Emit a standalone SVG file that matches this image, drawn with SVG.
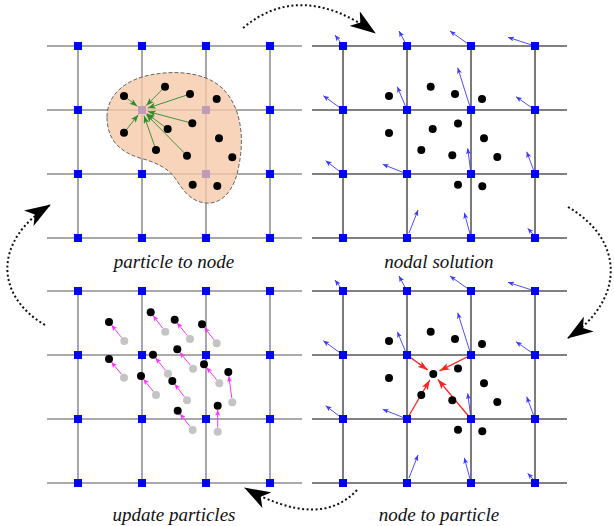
<svg xmlns="http://www.w3.org/2000/svg" width="614" height="526" viewBox="0 0 614 526">
<style>
.hl{stroke:#555;stroke-width:1.2}
.vl{stroke:#a8a8a8;stroke-width:2}
.hr{stroke:#808080;stroke-width:1.8}
.vr{stroke:#222;stroke-width:1.2}
.sq{fill:#0000ff}
.dot{fill:#000}
.old{fill:#c4c4c4}
.ga{stroke:#2e8b2e;stroke-width:0.9;fill:none;marker-end:url(#mg)}
.ba{stroke:#3a3aff;stroke-width:0.9;fill:none;marker-end:url(#mb)}
.ra{stroke:#ff2020;stroke-width:1.3;fill:none;marker-end:url(#mr)}
.ma{stroke:#ff33ff;stroke-width:1;fill:none;marker-end:url(#mm)}
.cyc{stroke:#111;stroke-width:2;stroke-dasharray:2 2.5;fill:none;marker-end:url(#big)}
.lbl{font-family:"Liberation Serif","Times New Roman",serif;font-style:italic;font-size:19px;fill:#111;text-anchor:middle}
</style>
<defs>
<marker id="big" markerUnits="userSpaceOnUse" viewBox="0 0 26 18" refX="25" refY="9" markerWidth="26" markerHeight="18" orient="auto"><path d="M0,0 L26,9 L0,18 L7,9 Z" fill="#000"/></marker>
<marker id="mg" markerUnits="userSpaceOnUse" viewBox="0 0 8 6" refX="8" refY="3" markerWidth="8" markerHeight="6" orient="auto"><path d="M0,0 L8,3 L0,6 L2,3 Z" fill="#2e8b2e"/></marker>
<marker id="mb" markerUnits="userSpaceOnUse" viewBox="0 0 6 5" refX="6" refY="2.5" markerWidth="6" markerHeight="5" orient="auto"><path d="M0,0 L6,2.5 L0,5 L1.5,2.5 Z" fill="#3a3aff"/></marker>
<marker id="mr" markerUnits="userSpaceOnUse" viewBox="0 0 10 7" refX="10" refY="3.5" markerWidth="10" markerHeight="7" orient="auto"><path d="M0,0 L10,3.5 L0,7 L2.5,3.5 Z" fill="#ff2020"/></marker>
<marker id="mm" markerUnits="userSpaceOnUse" viewBox="0 0 6 5" refX="6" refY="2.5" markerWidth="6" markerHeight="5" orient="auto"><path d="M0,0 L6,2.5 L0,5 L1.5,2.5 Z" fill="#ff33ff"/></marker>
</defs>
<rect width="614" height="526" fill="#fff"/>

<!-- Panel 1: particle to node -->
<g id="panel-particle-to-node">
<g class="grid">
<line class="vl" x1="78" y1="46" x2="78" y2="238"/><line class="vl" x1="142" y1="46" x2="142" y2="238"/><line class="vl" x1="206" y1="46" x2="206" y2="238"/><line class="vl" x1="270" y1="46" x2="270" y2="238"/>
<line class="hl" x1="47" y1="46" x2="302" y2="46"/><line class="hl" x1="47" y1="110" x2="302" y2="110"/><line class="hl" x1="47" y1="174" x2="302" y2="174"/><line class="hl" x1="47" y1="238" x2="302" y2="238"/>
</g>
<g class="nodes">
<rect class="sq" x="74" y="42" width="8" height="8"/><rect class="sq" x="138" y="42" width="8" height="8"/><rect class="sq" x="202" y="42" width="8" height="8"/><rect class="sq" x="266" y="42" width="8" height="8"/>
<rect class="sq" x="74" y="106" width="8" height="8"/><rect class="sq" x="138" y="106" width="8" height="8"/><rect class="sq" x="202" y="106" width="8" height="8"/><rect class="sq" x="266" y="106" width="8" height="8"/>
<rect class="sq" x="74" y="170" width="8" height="8"/><rect class="sq" x="138" y="170" width="8" height="8"/><rect class="sq" x="202" y="170" width="8" height="8"/><rect class="sq" x="266" y="170" width="8" height="8"/>
<rect class="sq" x="74" y="234" width="8" height="8"/><rect class="sq" x="138" y="234" width="8" height="8"/><rect class="sq" x="202" y="234" width="8" height="8"/><rect class="sq" x="266" y="234" width="8" height="8"/>
</g>
<path id="support" d="M107,117 C107,95 125,80 150,75 C175,70 205,72 222,88 C240,105 245,135 239,165 C235,190 222,205 205,203 C190,201 183,190 175,178 C168,168 155,162 140,158 C120,152 107,140 107,117 Z" fill="#f6c8a6" fill-opacity="0.78" stroke="#666" stroke-width="1" stroke-dasharray="4 2"/>
<g class="arrows">
<line class="ga" x1="124" y1="96" x2="137.3" y2="106.3"/>
<line class="ga" x1="165" y1="86.7" x2="146.2" y2="105.7"/>
<line class="ga" x1="190" y1="94" x2="147.7" y2="108.1"/>
<line class="ga" x1="192.3" y1="123.3" x2="147.8" y2="111.5"/>
<line class="ga" x1="167.7" y1="129" x2="146.8" y2="113.6"/>
<line class="ga" x1="124" y1="132.7" x2="138.3" y2="114.7"/>
<line class="ga" x1="156" y1="150" x2="144" y2="115.7"/>
<line class="ga" x1="187" y1="155.7" x2="146.2" y2="114.3"/>
</g>
<g class="particles">
<circle class="dot" cx="165" cy="86.7" r="4"/><circle class="dot" cx="190" cy="94" r="4"/><circle class="dot" cx="124" cy="96" r="4"/><circle class="dot" cx="216.7" cy="99" r="4"/>
<circle class="dot" cx="192.3" cy="123.3" r="4"/><circle class="dot" cx="167.7" cy="129" r="4"/><circle class="dot" cx="124" cy="132.7" r="4"/><circle class="dot" cx="219" cy="138.3" r="4"/>
<circle class="dot" cx="156" cy="150" r="4"/><circle class="dot" cx="187" cy="155.7" r="4"/><circle class="dot" cx="232.3" cy="157.3" r="4"/><circle class="dot" cx="192.7" cy="184.7" r="4"/><circle class="dot" cx="217.3" cy="186" r="4"/>
</g>
<text class="lbl" x="174" y="268">particle to node</text>
</g>

<!-- Panel 2: nodal solution -->
<g id="panel-nodal-solution">
<g class="grid">
<line class="hr" x1="312" y1="46" x2="567" y2="46"/><line class="hr" x1="312" y1="110" x2="567" y2="110"/><line class="hr" x1="312" y1="174" x2="567" y2="174"/><line class="hr" x1="312" y1="238" x2="567" y2="238"/>
<line class="vr" x1="343" y1="46" x2="343" y2="238"/><line class="vr" x1="407" y1="46" x2="407" y2="238"/><line class="vr" x1="471" y1="46" x2="471" y2="238"/><line class="vr" x1="535" y1="46" x2="535" y2="238"/>
</g>
<g class="arrows">
<line class="ba" x1="343" y1="46" x2="335" y2="35"/><line class="ba" x1="407" y1="46" x2="399" y2="31"/><line class="ba" x1="471" y1="46" x2="450" y2="31"/><line class="ba" x1="535" y1="46" x2="508" y2="37.3"/>
<line class="ba" x1="343" y1="110" x2="323.3" y2="95.7"/><line class="ba" x1="407" y1="110" x2="397.3" y2="86.7"/><line class="ba" x1="471" y1="110" x2="457.7" y2="67.7"/><line class="ba" x1="535" y1="110" x2="516" y2="96.7"/>
<line class="ba" x1="343" y1="174" x2="325.7" y2="160.7"/><line class="ba" x1="407" y1="174" x2="382.7" y2="164.3"/><line class="ba" x1="471" y1="174" x2="467.7" y2="148.3"/><line class="ba" x1="535" y1="174" x2="526.7" y2="151.7"/>
<line class="ba" x1="409" y1="233" x2="418" y2="210"/><line class="ba" x1="470" y1="234" x2="464.3" y2="212.7"/><line class="ba" x1="533" y1="234" x2="527.7" y2="228.3"/>
</g>
<g class="nodes">
<rect class="sq" x="339" y="42" width="8" height="8"/><rect class="sq" x="403" y="42" width="8" height="8"/><rect class="sq" x="467" y="42" width="8" height="8"/><rect class="sq" x="531" y="42" width="8" height="8"/>
<rect class="sq" x="339" y="106" width="8" height="8"/><rect class="sq" x="403" y="106" width="8" height="8"/><rect class="sq" x="467" y="106" width="8" height="8"/><rect class="sq" x="531" y="106" width="8" height="8"/>
<rect class="sq" x="339" y="170" width="8" height="8"/><rect class="sq" x="403" y="170" width="8" height="8"/><rect class="sq" x="467" y="170" width="8" height="8"/><rect class="sq" x="531" y="170" width="8" height="8"/>
<rect class="sq" x="339" y="234" width="8" height="8"/><rect class="sq" x="403" y="234" width="8" height="8"/><rect class="sq" x="467" y="234" width="8" height="8"/><rect class="sq" x="531" y="234" width="8" height="8"/>
</g>
<g class="particles">
<circle class="dot" cx="430.7" cy="86.7" r="4"/><circle class="dot" cx="455" cy="94" r="4"/><circle class="dot" cx="389" cy="96" r="4"/><circle class="dot" cx="482" cy="99" r="4"/>
<circle class="dot" cx="458" cy="123.5" r="4"/><circle class="dot" cx="432.7" cy="129" r="4"/><circle class="dot" cx="389" cy="133" r="4"/><circle class="dot" cx="484" cy="138.3" r="4"/>
<circle class="dot" cx="421.3" cy="150" r="4"/><circle class="dot" cx="452.3" cy="155.3" r="4"/><circle class="dot" cx="497.3" cy="157" r="4"/><circle class="dot" cx="458" cy="184.7" r="4"/><circle class="dot" cx="482.3" cy="186.3" r="4"/>
</g>
<text class="lbl" x="439" y="268">nodal solution</text>
</g>

<!-- Panel 3: update particles -->
<g id="panel-update-particles">
<g class="grid">
<line class="vl" x1="78" y1="291" x2="78" y2="483"/><line class="vl" x1="142" y1="291" x2="142" y2="483"/><line class="vl" x1="206" y1="291" x2="206" y2="483"/><line class="vl" x1="270" y1="291" x2="270" y2="483"/>
<line class="hl" x1="47" y1="291" x2="302" y2="291"/><line class="hl" x1="47" y1="355" x2="302" y2="355"/><line class="hl" x1="47" y1="419" x2="302" y2="419"/><line class="hl" x1="47" y1="483" x2="302" y2="483"/>
</g>
<g class="nodes">
<rect class="sq" x="74" y="287" width="8" height="8"/><rect class="sq" x="138" y="287" width="8" height="8"/><rect class="sq" x="202" y="287" width="8" height="8"/><rect class="sq" x="266" y="287" width="8" height="8"/>
<rect class="sq" x="74" y="351" width="8" height="8"/><rect class="sq" x="138" y="351" width="8" height="8"/><rect class="sq" x="202" y="351" width="8" height="8"/><rect class="sq" x="266" y="351" width="8" height="8"/>
<rect class="sq" x="74" y="415" width="8" height="8"/><rect class="sq" x="138" y="415" width="8" height="8"/><rect class="sq" x="202" y="415" width="8" height="8"/><rect class="sq" x="266" y="415" width="8" height="8"/>
<rect class="sq" x="74" y="479" width="8" height="8"/><rect class="sq" x="138" y="479" width="8" height="8"/><rect class="sq" x="202" y="479" width="8" height="8"/><rect class="sq" x="266" y="479" width="8" height="8"/>
</g>
<g class="old-particles">
<circle class="old" cx="124.3" cy="341" r="4"/><circle class="old" cx="165.3" cy="331.7" r="4"/><circle class="old" cx="190" cy="339" r="4"/><circle class="old" cx="216.7" cy="343.3" r="4"/>
<circle class="old" cx="193" cy="368.7" r="4"/><circle class="old" cx="168" cy="373.7" r="4"/><circle class="old" cx="124" cy="377.7" r="4"/><circle class="old" cx="219.3" cy="383.3" r="4"/>
<circle class="old" cx="156" cy="395" r="4"/><circle class="old" cx="187" cy="400.3" r="4"/><circle class="old" cx="232.3" cy="402.3" r="4"/><circle class="old" cx="192.7" cy="430" r="4"/><circle class="old" cx="217.7" cy="431.7" r="4"/>
</g>
<g class="arrows">
<line class="ma" x1="121.5" y1="337.5" x2="111.5" y2="325"/>
<line class="ma" x1="162.5" y1="328" x2="153" y2="315.5"/>
<line class="ma" x1="187.3" y1="335.5" x2="177" y2="322.7"/>
<line class="ma" x1="214" y1="339.8" x2="204.3" y2="327.3"/>
<line class="ma" x1="190.3" y1="365.2" x2="179.7" y2="352.3"/>
<line class="ma" x1="165.3" y1="370.2" x2="155.5" y2="357.8"/>
<line class="ma" x1="121.5" y1="374.3" x2="111.3" y2="362"/>
<line class="ma" x1="216.6" y1="379.8" x2="206.5" y2="367.3"/>
<line class="ma" x1="231.8" y1="398" x2="228.8" y2="376"/>
<line class="ma" x1="153.3" y1="391.5" x2="143.3" y2="379"/>
<line class="ma" x1="184.3" y1="396.8" x2="174.7" y2="384"/>
<line class="ma" x1="217.7" y1="427.5" x2="217.7" y2="409.8"/>
<line class="ma" x1="190" y1="426.5" x2="180" y2="413.7"/>
</g>
<g class="particles">
<circle class="dot" cx="109" cy="322" r="4"/><circle class="dot" cx="150.7" cy="312.3" r="4"/><circle class="dot" cx="174.7" cy="319.7" r="4"/><circle class="dot" cx="202" cy="324.3" r="4"/>
<circle class="dot" cx="177.3" cy="349.3" r="4"/><circle class="dot" cx="153" cy="354.7" r="4"/><circle class="dot" cx="109" cy="359" r="4"/><circle class="dot" cx="204" cy="364.3" r="4"/>
<circle class="dot" cx="228.3" cy="372" r="4"/><circle class="dot" cx="141" cy="376" r="4"/><circle class="dot" cx="172.3" cy="381" r="4"/><circle class="dot" cx="217.7" cy="405.7" r="4"/><circle class="dot" cx="177.7" cy="410.7" r="4"/>
</g>
<text class="lbl" x="174" y="521">update particles</text>
</g>

<!-- Panel 4: node to particle -->
<g id="panel-node-to-particle">
<g class="grid">
<line class="hr" x1="312" y1="291" x2="567" y2="291"/><line class="hr" x1="312" y1="355" x2="567" y2="355"/><line class="hr" x1="312" y1="419" x2="567" y2="419"/><line class="hr" x1="312" y1="483" x2="567" y2="483"/>
<line class="vr" x1="343" y1="291" x2="343" y2="483"/><line class="vr" x1="407" y1="291" x2="407" y2="483"/><line class="vr" x1="471" y1="291" x2="471" y2="483"/><line class="vr" x1="535" y1="291" x2="535" y2="483"/>
</g>
<g class="arrows">
<line class="ba" x1="343" y1="291" x2="335" y2="280"/><line class="ba" x1="407" y1="291" x2="399" y2="276"/><line class="ba" x1="471" y1="291" x2="450" y2="276"/><line class="ba" x1="535" y1="291" x2="508" y2="282.3"/>
<line class="ba" x1="343" y1="355" x2="323.3" y2="340.7"/><line class="ba" x1="407" y1="355" x2="397.3" y2="331.7"/><line class="ba" x1="471" y1="355" x2="457.7" y2="312.7"/><line class="ba" x1="535" y1="355" x2="516" y2="341.7"/>
<line class="ba" x1="343" y1="419" x2="325.7" y2="405.7"/><line class="ba" x1="407" y1="419" x2="382.7" y2="409.3"/><line class="ba" x1="471" y1="419" x2="467.7" y2="393.3"/><line class="ba" x1="535" y1="419" x2="526.7" y2="396.7"/>
<line class="ba" x1="409" y1="478" x2="418" y2="455"/><line class="ba" x1="470" y1="479" x2="464.3" y2="457.7"/><line class="ba" x1="533" y1="479" x2="527.7" y2="473.3"/>
<line class="ra" x1="407" y1="355" x2="427.6" y2="369.9"/>
<line class="ra" x1="471" y1="355" x2="439.6" y2="370.8"/>
<line class="ra" x1="407" y1="419" x2="429.8" y2="380"/>
<line class="ra" x1="471" y1="419" x2="437.8" y2="379.4"/>
</g>
<g class="nodes">
<rect class="sq" x="339" y="287" width="8" height="8"/><rect class="sq" x="403" y="287" width="8" height="8"/><rect class="sq" x="467" y="287" width="8" height="8"/><rect class="sq" x="531" y="287" width="8" height="8"/>
<rect class="sq" x="339" y="351" width="8" height="8"/><rect class="sq" x="403" y="351" width="8" height="8"/><rect class="sq" x="467" y="351" width="8" height="8"/><rect class="sq" x="531" y="351" width="8" height="8"/>
<rect class="sq" x="339" y="415" width="8" height="8"/><rect class="sq" x="403" y="415" width="8" height="8"/><rect class="sq" x="467" y="415" width="8" height="8"/><rect class="sq" x="531" y="415" width="8" height="8"/>
<rect class="sq" x="339" y="479" width="8" height="8"/><rect class="sq" x="403" y="479" width="8" height="8"/><rect class="sq" x="467" y="479" width="8" height="8"/><rect class="sq" x="531" y="479" width="8" height="8"/>
</g>
<g class="particles">
<circle class="dot" cx="430.7" cy="331.7" r="4"/><circle class="dot" cx="455" cy="339" r="4"/><circle class="dot" cx="389" cy="341" r="4"/><circle class="dot" cx="482" cy="344" r="4"/>
<circle class="dot" cx="458" cy="368.5" r="4"/><circle class="dot" cx="433.3" cy="374" r="4"/><circle class="dot" cx="389" cy="378" r="4"/><circle class="dot" cx="484" cy="383.3" r="4"/>
<circle class="dot" cx="421.3" cy="395" r="4"/><circle class="dot" cx="452.3" cy="400.3" r="4"/><circle class="dot" cx="497.3" cy="402" r="4"/><circle class="dot" cx="458" cy="429.7" r="4"/><circle class="dot" cx="482.3" cy="431.3" r="4"/>
</g>
<text class="lbl" x="439" y="521">node to particle</text>
</g>

<!-- Cycle connectors -->
<g id="connectors">
<path class="cyc" d="M243,28 Q300,-20 375,33"/>
<path class="cyc" d="M568,207 C625,240 625,300 568,338"/>
<path class="cyc" d="M357,490 Q320,530 245,488"/>
<path class="cyc" d="M45,325 C-6,295 -6,240 50,205"/>
</g>
</svg>
